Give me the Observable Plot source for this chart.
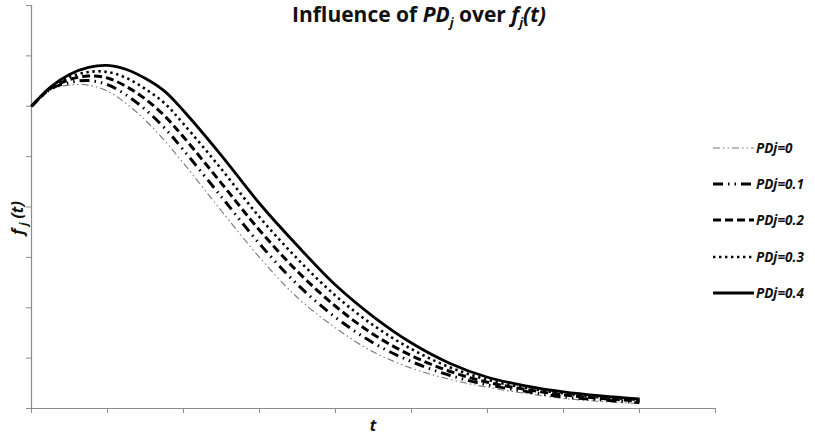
<!DOCTYPE html>
<html>
<head>
<meta charset="utf-8">
<script src="https://cdn.jsdelivr.net/npm/d3@7"></script>
<script src="https://cdn.jsdelivr.net/npm/@observablehq/plot@0.6"></script>
<style>
  html, body { margin: 0; padding: 0; background: #fff; }
  #wrap { position: relative; width: 815px; height: 437px; font-family: "Open Sans", sans-serif; }
  #title { position: absolute; top: 0px; left: 0; width: 838px; text-align: center; font-weight: 700; font-size: 21px; color: #111; }
  #legend { position: absolute; left: 711px; top: 130px; }
  .lg { display: flex; align-items: center; height: 36.2px; }
  .lg span { font-weight: 700; font-style: italic; font-size: 13.5px; margin-left: 2px; color: #111; }
</style>
</head>
<body>
<div id="wrap">
  <div id="title">Influence of <i>PD<sub style="font-size:13px">j</sub></i> over <i>f<sub style="font-size:13px">j</sub>(t)</i></div>
  <div id="chart"></div>
  <div id="legend"></div>
</div>
<script>
const times = [0, 0.25, 0.5, 0.75, 1, 1.25, 1.5, 1.75, 2, 2.5, 3, 3.5, 4, 4.5, 5, 5.5, 6, 6.5, 7, 7.5, 8];
const seriesNames = ["PDj=0", "PDj=0.1", "PDj=0.2", "PDj=0.3", "PDj=0.4"];
const pd0  = [6.0, 6.33, 6.42, 6.42, 6.30, 6.05, 5.72, 5.32, 4.87, 3.92, 3.00, 2.20, 1.60, 1.12, 0.80, 0.58, 0.42, 0.30, 0.20, 0.14, 0.10];
const pd01 = [6.0, 6.34, 6.47, 6.51, 6.43, 6.22, 5.93, 5.57, 5.13, 4.20, 3.27, 2.46, 1.81, 1.30, 0.93, 0.66, 0.47, 0.34, 0.23, 0.17, 0.12];
const pd02 = [6.0, 6.35, 6.53, 6.60, 6.56, 6.39, 6.14, 5.81, 5.39, 4.47, 3.54, 2.72, 2.03, 1.47, 1.05, 0.74, 0.52, 0.38, 0.27, 0.20, 0.15];
const pd03 = [6.0, 6.37, 6.58, 6.68, 6.68, 6.56, 6.34, 6.06, 5.65, 4.75, 3.80, 2.97, 2.24, 1.65, 1.18, 0.82, 0.57, 0.41, 0.30, 0.22, 0.17];
const pd04 = [6.0, 6.38, 6.63, 6.77, 6.81, 6.73, 6.55, 6.30, 5.91, 5.02, 4.07, 3.23, 2.45, 1.82, 1.30, 0.90, 0.62, 0.45, 0.33, 0.25, 0.19];
const xTicks = [0, 1, 2, 3, 4, 5, 6, 7, 8, 9];
const yTicks = [0, 1, 2, 3, 4, 5, 6, 7, 8];

const allSeries = [pd0, pd01, pd02, pd03, pd04];
const styles = [
  {stroke: "#777", width: 1.1, dash: "7,3,1.5,3,1.5,3", cap: "butt"},
  {stroke: "#000", width: 3, dash: "10,5,1.5,5,1.5,5", cap: "butt"},
  {stroke: "#000", width: 3, dash: "8,4", cap: "butt"},
  {stroke: "#000", width: 2.6, dash: "2.4,3.6", cap: "butt"},
  {stroke: "#000", width: 2.8, dash: null, cap: "butt"}
];

const marks = [
  Plot.ruleY([0], {stroke: "#8c8c8c", strokeWidth: 1.2}),
  Plot.ruleX([0], {stroke: "#8c8c8c", strokeWidth: 1.2}),
  Plot.axisX({ticks: xTicks, tickFormat: () => "", tickSize: 5, stroke: "#8c8c8c", label: null}),
  Plot.axisY({ticks: yTicks, tickFormat: () => "", tickSize: 5, stroke: "#8c8c8c", label: null})
];
allSeries.forEach((vals, i) => {
  const rows = times.map((t, j) => ({t, v: vals[j], s: seriesNames[i]}));
  const st = styles[i];
  marks.push(Plot.line(rows, {
    x: "t", y: "v", curve: "catmull-rom",
    stroke: st.stroke, strokeWidth: st.width,
    strokeDasharray: st.dash, strokeLinecap: st.cap
  }));
});

const chart = Plot.plot({
  width: 815, height: 437,
  marginLeft: 31, marginRight: 100, marginTop: 5, marginBottom: 29,
  x: {domain: [0, 9]},
  y: {domain: [0, 8]},
  style: {background: "#fff", overflow: "visible"},
  marks
});
document.getElementById("chart").appendChild(chart);

// axis labels with subscripts
const svg = d3.select(chart);
const yl = svg.append("text")
  .attr("transform", "translate(23,218) rotate(-90)")
  .attr("text-anchor", "middle")
  .attr("font-family", "'Open Sans', sans-serif")
  .attr("font-weight", 700).attr("font-style", "italic").attr("font-size", 16).attr("fill", "#111");
yl.append("tspan").text("f");
yl.append("tspan").attr("font-size", 11).attr("dy", 4).attr("dx", 3).text("j");
yl.append("tspan").attr("dy", -4).attr("dx", 4).text("(t)");
svg.append("text")
  .attr("x", 373).attr("y", 431)
  .attr("text-anchor", "middle")
  .attr("font-family", "'Open Sans', sans-serif")
  .attr("font-weight", 700).attr("font-style", "italic").attr("font-size", 16).attr("fill", "#111")
  .text("t");

// legend
const legend = d3.select("#legend");
seriesNames.forEach((name, i) => {
  const st = styles[i];
  const row = legend.append("div").attr("class", "lg");
  const s = row.append("svg").attr("width", 43).attr("height", 10);
  s.append("line").attr("x1", 2).attr("x2", 43).attr("y1", 5).attr("y2", 5)
    .attr("stroke", st.stroke).attr("stroke-width", st.width)
    .attr("stroke-dasharray", st.dash).attr("stroke-linecap", st.cap);
  row.append("span").text(name);
});
</script>
</body>
</html>
